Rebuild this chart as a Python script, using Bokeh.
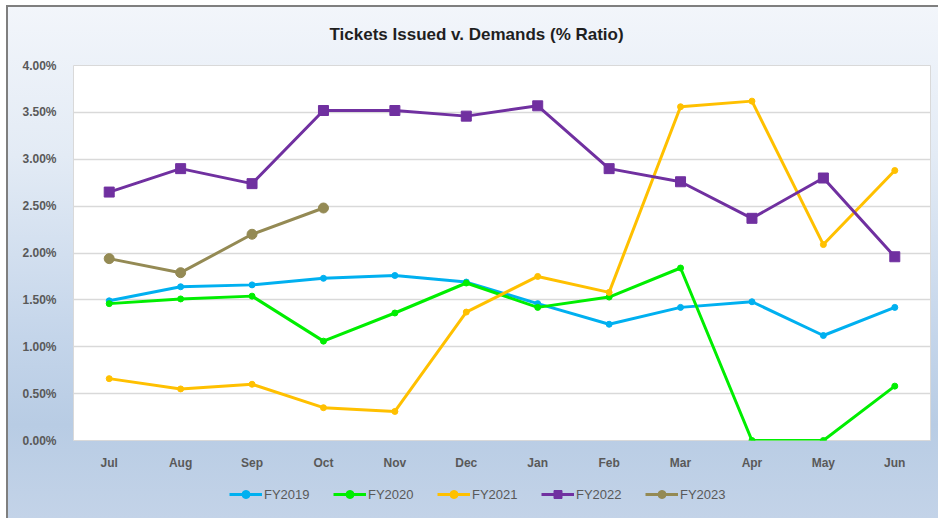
from bokeh.plotting import figure
from bokeh.layouts import column
from bokeh.models import (Legend, LegendItem, FactorRange, Range1d,
                          PrintfTickFormatter, FixedTicker, Title)
from bokeh.embed import file_html
from bokeh.resources import INLINE

months = ["Jul", "Aug", "Sep", "Oct", "Nov", "Dec",
          "Jan", "Feb", "Mar", "Apr", "May", "Jun"]
fy2019 = [1.49, 1.64, 1.66, 1.73, 1.76, 1.69, 1.46, 1.24, 1.42, 1.48, 1.12, 1.42]
fy2020 = [1.46, 1.51, 1.54, 1.06, 1.36, 1.68, 1.42, 1.53, 1.84, 0.00, 0.00, 0.58]
fy2021 = [0.66, 0.55, 0.60, 0.35, 0.31, 1.37, 1.75, 1.58, 3.56, 3.62, 2.09, 2.88]
fy2022 = [2.65, 2.90, 2.74, 3.52, 3.52, 3.46, 3.57, 2.90, 2.76, 2.37, 2.80, 1.96]
fy2023 = [1.94, 1.79, 2.20, 2.48]
y_ticks = [0.0, 0.5, 1.0, 1.5, 2.0, 2.5, 3.0, 3.5, 4.0]
title_text = "Tickets Issued v. Demands (% Ratio)"

series = [
    ("FY2019", fy2019, "#00B0F0", "circle", 6),
    ("FY2020", fy2020, "#00EE00", "circle", 6),
    ("FY2021", fy2021, "#FFC000", "circle", 6),
    ("FY2022", fy2022, "#7030A0", "square", 10),
    ("FY2023", fy2023, "#948A54", "circle", 10),
]

# main chart
p = figure(width=938, height=478, x_range=FactorRange(*months, range_padding=0),
           y_range=Range1d(0, 4.0), output_backend="svg", toolbar_location=None,
           min_border_left=73, min_border_top=65, min_border_bottom=38,
           min_border_right=8)
p.border_fill_color = None
p.background_fill_color = "white"
p.outline_line_color = "#D9D9D9"

p.title = Title(text=title_text, align="left", offset=256, standoff=44,
                text_font="Liberation Sans", text_font_size="17px",
                text_font_style="bold", text_color="#1F1F1F")

p.xgrid.grid_line_color = None
p.ygrid.grid_line_color = "#D9D9D9"
p.ygrid.grid_line_width = 1.5
p.yaxis.ticker = FixedTicker(ticks=y_ticks)
p.yaxis.formatter = PrintfTickFormatter(format="%.2f%%")

for ax in (p.xaxis, p.yaxis):
    ax.axis_line_color = None
    ax.major_tick_line_color = None
    ax.minor_tick_line_color = None
    ax.major_label_text_font = "Liberation Sans"
    ax.major_label_text_font_size = "12px"
    ax.major_label_text_font_style = "bold"
    ax.major_label_text_color = "#595959"
p.yaxis.major_label_standoff = 11
p.xaxis.major_label_standoff = 9

for name, vals, color, marker, size in series:
    xs = months[:len(vals)]
    p.line(xs, vals, line_color=color, line_width=3)
    p.scatter(xs, vals, marker=marker, size=size, fill_color=color,
              line_color=color)

# legend strip below the chart (its own renderers are out of view)
lg = figure(width=938, height=40, x_range=FactorRange(*months, range_padding=0),
            y_range=Range1d(10, 11), x_axis_type=None, y_axis_type=None,
            output_backend="svg", toolbar_location=None, min_border=0)
lg.border_fill_color = None
lg.background_fill_color = None
lg.outline_line_color = None
lg.grid.visible = False

items = []
for name, vals, color, marker, size in series:
    xs = months[:len(vals)]
    lr = lg.line(xs, vals, line_color=color, line_width=3)
    sr = lg.scatter(xs, vals, marker=marker, size=min(size, 8), fill_color=color,
                    line_color=color)
    items.append(LegendItem(label=name, renderers=[lr, sr]))

legend = Legend(items=items, orientation="horizontal", location=(156, 14),
                glyph_width=33, glyph_height=20, label_height=20,
                label_standoff=2, label_width=50,
                spacing=19, padding=0, margin=0, border_line_color=None,
                background_fill_alpha=0, label_text_font="Liberation Sans",
                label_text_font_size="13px", label_text_color="#595959")
lg.add_layout(legend, "center")

layout = column(p, lg, spacing=0)
layout.styles = {
    "background": "linear-gradient(to bottom, #F3F6FB 0%, #E3EBF5 30%, #C4D5EA 65%, #B8CCE4 82%, #C3D3E8 100%)",
    "box-shadow": "inset 6px 5px 0 #FFFFFF, inset 8px 7px 0 #7F7F7F",
}

open("out.html", "w").write(file_html(layout, INLINE))
